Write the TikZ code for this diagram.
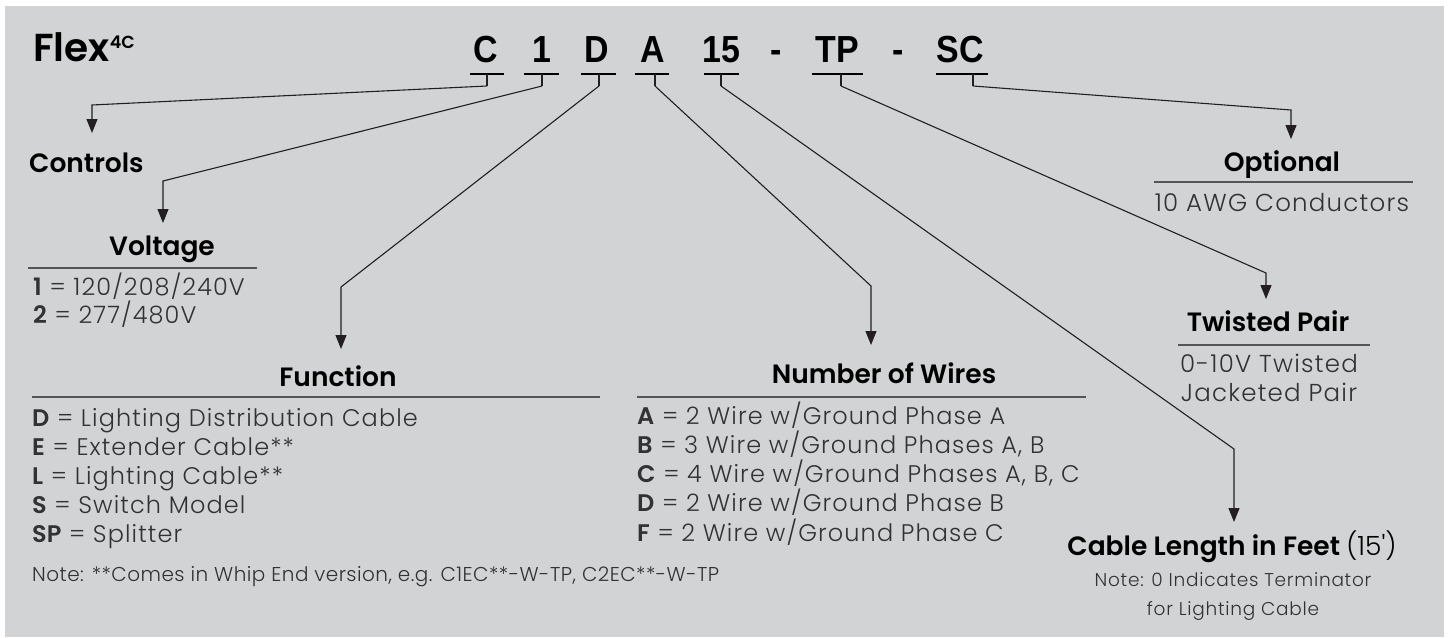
\documentclass[tikz,border=0pt]{standalone}
\usepackage{fontspec}
\usetikzlibrary{arrows.meta}
\newfontfamily\popp{Poppins}
\IfFontExistsTF{Poppins Light}{\newfontfamily\lightf{Poppins Light}}{\let\lightf\popp}
\IfFontExistsTF{Poppins SemiBold}{\newfontfamily\semif{Poppins SemiBold}}{\def\semif{\popp\bfseries}}
\newfontfamily\codef{Liberation Sans}[FakeStretch=0.9]
\definecolor{bg}{RGB}{209,211,212}
\definecolor{ink}{RGB}{35,31,32}
\definecolor{txt}{RGB}{50,50,52}
\definecolor{rule}{RGB}{85,85,88}
\tikzset{
  code/.style={font=\codef\bfseries\fontsize{37.7}{40}\selectfont, anchor=base, inner sep=0pt, text=black},
  title/.style={font=\semif\fontsize{26.5}{30}\selectfont, anchor=base, inner sep=0pt, text=black},
  body/.style={font=\lightf\fontsize{24}{28}\selectfont\addfontfeature{LetterSpace=4.6}, anchor=base west, inner sep=0pt, text=txt},
  bodyc/.style={font=\lightf\fontsize{24.5}{28}\selectfont\addfontfeature{LetterSpace=5}, anchor=base, inner sep=0pt, text=txt},
  notec/.style={font=\lightf\fontsize{18.5}{28}\selectfont\addfontfeature{LetterSpace=4}, anchor=base, inner sep=0pt, text=txt},
  notel/.style={font=\lightf\fontsize{20}{28}\selectfont\addfontfeature{LetterSpace=2.3}, anchor=base west, inner sep=0pt, text=txt},
  uline/.style={draw=black, line width=1.6pt},
  tick/.style={draw=ink, line width=1.1pt},
  conn/.style={draw=ink, line width=1.1pt, -{Triangle[width=11pt,length=14pt]}},
  hrule/.style={draw=rule, line width=1.3pt},
}
\newcommand{\kb}[1]{{\semif #1}}
\begin{document}
\begin{tikzpicture}[x=1pt,y=-1pt]
\useasboundingbox (0,0) rectangle (1450,637);
\fill[bg] (5,6) rectangle (1444,637);

% title
\node[anchor=base west, inner sep=0pt, font=\semif\fontsize{39}{42}\selectfont] (flex) at (33,61)
  {Flex{\fontsize{17.5}{18}\selectfont\raisebox{13pt}{4C}}};

% code letters
\node[code] (kC)  at (486,62) {C};
\node[code] (k1)  at (542,62) {1};
\node[code] (kD)  at (597,62) {D};
\node[code] (kA)  at (653,62) {A};
\node[code] (k15) at (721,62) {15};
\node[code] (kd1) at (776,62) {-};
\node[code] (kTP) at (837,62) {TP};
\node[code] (kd2) at (898,62) {-};
\node[code] (kSC) at (960,62) {SC};

% underlines
\draw[uline] (470,74) -- (504,74);
\draw[uline] (524,74) -- (559,74);
\draw[uline] (581,74) -- (616,74);
\draw[uline] (635,74) -- (669,74);
\draw[uline] (704,74) -- (739,74);
\draw[uline] (812,74) -- (863,74);
\draw[uline] (936,74) -- (988,74);

% ticks
\coordinate (tC)  at (487,86);
\coordinate (t1)  at (542,86);
\coordinate (tD)  at (599,86);
\coordinate (tA)  at (655,86);
\coordinate (t15) at (721,86);
\coordinate (tTP) at (841,86);
\coordinate (tSC) at (973,86);
\draw[tick] (487,74) -- (tC);
\draw[tick] (542,74) -- (t1);
\draw[tick] (599,74) -- (tD);
\draw[tick] (655,74) -- (tA);
\draw[tick] (721,74) -- (t15);
\draw[tick] (841,74) -- (tTP);
\draw[tick] (973,74) -- (tSC);

% arrow tips
\coordinate (aCtrl) at (92,133);
\coordinate (aVolt) at (163,223);
\coordinate (aFunc) at (341,349);
\coordinate (aWire) at (871,345);
\coordinate (aLen)  at (1234,522);
\coordinate (aTP)   at (1266,299);
\coordinate (aOpt)  at (1291,139);

\draw[conn] (tC)  -- (92,105)   -- (aCtrl);
\draw[conn] (t1)  -- (163,181)  -- (aVolt);
\draw[conn] (tD)  -- (341,287)  -- (aFunc);
\draw[conn] (tA)  -- (871,286)  -- (aWire);
\draw[conn] (t15) -- (1234,449) -- (aLen);
\draw[conn] (tTP) -- (1266,273) -- (aTP);
\draw[conn] (tSC) -- (1291,110) -- (aOpt);

% Controls
\node[title, anchor=base west] (ctrl) at (29,172) {Controls};

% Voltage
\node[title] (volt) at (162,255) {Voltage};
\draw[hrule] (28,268) -- (257,268);
\node[body] (v1) at (33,295) {\kb{1} = 120/208/240V};
\node[body] (v2) at (33,323) {\kb{2} = 277/480V};

% Function
\node[title] (func) at (338,386) {Function};
\draw[hrule] (32,397) -- (600,397);
\node[body] (f1) at (32,426) {\kb{D} = Lighting Distribution Cable};
\node[body] (f2) at (32,455) {\kb{E} = Extender Cable**};
\node[body] (f3) at (32,484) {\kb{L} = Lighting Cable**};
\node[body] (f4) at (32,513) {\kb{S} = Switch Model};
\node[body] (f5) at (32,542) {\kb{SP} = Splitter};
\node[notel] (fn) at (32,581) {Note: **Comes in Whip End version, e.g. C1EC**-W-TP, C2EC**-W-TP};

% Number of Wires
\node[title] (wire) at (884,383) {Number of Wires};
\draw[hrule] (637,397) -- (1086,397);
\node[body] (w1) at (637,424) {\kb{A} = 2 Wire w/Ground Phase A};
\node[body] (w2) at (637,453) {\kb{B} = 3 Wire w/Ground Phases A, B};
\node[body] (w3) at (637,482) {\kb{C} = 4 Wire w/Ground Phases A, B, C};
\node[body] (w4) at (637,511) {\kb{D} = 2 Wire w/Ground Phase B};
\node[body] (w5) at (637,541) {\kb{F} = 2 Wire w/Ground Phase C};

% Optional
\node[title] (opt) at (1282,171) {Optional};
\draw[hrule] (1154,182) -- (1413,182);
\node[bodyc] (opt1) at (1282,211) {10 AWG Conductors};

% Twisted pair
\node[title] (tp) at (1268,331) {Twisted Pair};
\draw[hrule] (1178,345) -- (1370,345);
\node[bodyc] (tp1) at (1269,372) {0-10V Twisted};
\node[bodyc] (tp2) at (1269,401) {Jacketed Pair};

% Cable length
\node[title] (len) at (1232,555) {Cable Length in Feet {\lightf(15')}};
\node[notec] (len1) at (1233,586) {Note: 0 Indicates Terminator};
\node[notec] (len2) at (1233,615) {for Lighting Cable};
\end{tikzpicture}
\end{document}
